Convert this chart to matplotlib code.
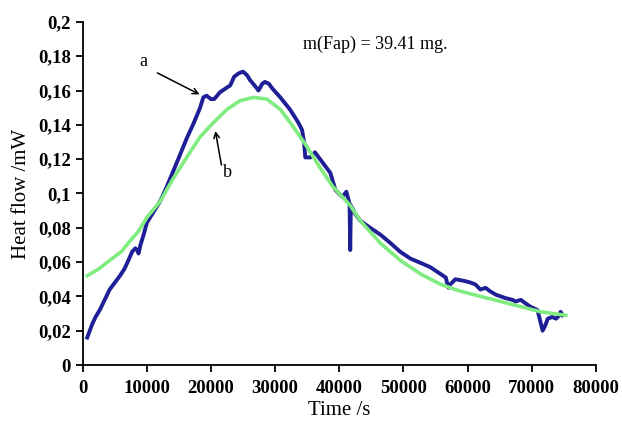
import matplotlib.pyplot as plt
from matplotlib.ticker import FuncFormatter

time_a = [700, 1000, 1500, 2000, 2650, 3300, 4200, 5000, 5800, 6500, 7000, 7700,
          8200, 8500, 8700, 9000, 9500, 10000, 11000, 12000, 13000, 14000, 15000,
          16200, 17300, 18300, 18800, 19300, 20000, 20500, 21400, 22200, 23000,
          23600, 24300, 25000, 25600, 26100, 27000, 27400, 28000, 28400, 29000,
          29600, 30800, 32300, 33500, 34200, 34500, 34700, 35500, 36200, 37000,
          37800, 38600, 39400, 40500, 41100, 41600, 41700, 41800, 42500, 43300, 44800,
          46400, 48000, 49500, 51100, 53000, 54200, 55000, 55800, 56600,
          57000, 57300, 58100, 59500, 60500, 61200, 62000, 62800, 63500, 64400,
          65900, 67000, 67500, 68300, 69000, 69800, 70900, 71300, 71700, 72100,
          72500, 73200, 73800, 74300, 74500, 74800]
flow_a = [0.016, 0.019, 0.024, 0.028, 0.032, 0.037, 0.044, 0.048, 0.052, 0.056, 0.060, 0.066,
          0.068, 0.067, 0.065, 0.070, 0.076, 0.083, 0.089, 0.095, 0.103, 0.112, 0.121,
          0.132, 0.141, 0.150, 0.156, 0.157, 0.155, 0.155, 0.159, 0.161, 0.163,
          0.168, 0.170, 0.171, 0.169, 0.166, 0.162, 0.160, 0.164, 0.165, 0.164,
          0.161, 0.156, 0.149, 0.142, 0.137, 0.130, 0.121, 0.121, 0.124, 0.120,
          0.116, 0.112, 0.102, 0.098, 0.101, 0.094, 0.067, 0.093, 0.088, 0.084, 0.080,
          0.076, 0.071, 0.066, 0.062, 0.059, 0.057, 0.055, 0.053, 0.051,
          0.045, 0.047, 0.050, 0.049, 0.048, 0.047, 0.044, 0.045, 0.043, 0.041,
          0.039, 0.038, 0.037, 0.038, 0.036, 0.034, 0.032, 0.026, 0.020, 0.023,
          0.027, 0.028, 0.027, 0.029, 0.031, 0.029]

# curve b: fitted curve
time_b = [700, 2500, 4200, 6000, 7300, 8700, 10000, 12000, 14000, 16200, 18300,
          20300, 22500, 24500, 26600, 28700, 30800, 32800, 35000, 37000, 39000,
          41700, 43300, 46400, 49500, 52700, 55800, 58900, 62000, 65200, 68300,
          71400, 75300]
flow_b = [0.052, 0.056, 0.061, 0.066, 0.072, 0.078, 0.086, 0.095, 0.108, 0.121, 0.133,
          0.141, 0.149, 0.154, 0.156, 0.155, 0.149, 0.139, 0.127, 0.115, 0.104,
          0.093, 0.084, 0.071, 0.061, 0.053, 0.047, 0.043, 0.040, 0.037, 0.034,
          0.031, 0.029]

x_ticks = [0, 10000, 20000, 30000, 40000, 50000, 60000, 70000, 80000]
y_ticks = [0, 0.02, 0.04, 0.06, 0.08, 0.1, 0.12, 0.14, 0.16, 0.18, 0.2]

plt.rcParams['font.family'] = 'Liberation Serif'

fig = plt.figure(figsize=(6.22, 4.21), dpi=100)
ax = fig.add_axes([0.133, 0.133, 0.825, 0.815])

ax.plot(time_a, flow_a, color='#1e1e96', lw=2.8, solid_joinstyle='round')
ax.plot(time_b, flow_b, color='#80ec80', lw=2.6)

ax.set_xlim(0, 80000)
ax.set_ylim(0, 0.2)
ax.set_xticks(x_ticks)
ax.set_yticks(y_ticks)
ax.yaxis.set_major_formatter(FuncFormatter(lambda v, p: ('%g' % round(v, 2)).replace('.', ',')))
ax.tick_params(direction='out', length=5, width=1.3, labelsize=13.5)
ax.tick_params(axis='x', pad=6)
for lab in ax.get_xticklabels() + ax.get_yticklabels():
    lab.set_fontweight('bold')

for s in ['top', 'right']:
    ax.spines[s].set_visible(False)
for s in ['left', 'bottom']:
    ax.spines[s].set_linewidth(1.3)

ax.set_xlabel('Time /s', fontsize=15, labelpad=3)
ax.set_ylabel('Heat flow /mW', fontsize=15, labelpad=5)

ax.text(34400, 0.187, 'm(Fap) = 39.41 mg.', fontsize=13, ha='left', va='center')

# labels a and b with arrows
ax.text(9400, 0.177, 'a', fontsize=13, ha='center', va='center')
ax.annotate('', xy=(18600, 0.157), xytext=(11250, 0.171),
            arrowprops=dict(arrowstyle='->', color='black', lw=1.1))
ax.text(22500, 0.112, 'b', fontsize=13, ha='center', va='center')
ax.annotate('', xy=(20600, 0.138), xytext=(21700, 0.115),
            arrowprops=dict(arrowstyle='->', color='black', lw=1.1))

fig.savefig('out.png', dpi=100)
